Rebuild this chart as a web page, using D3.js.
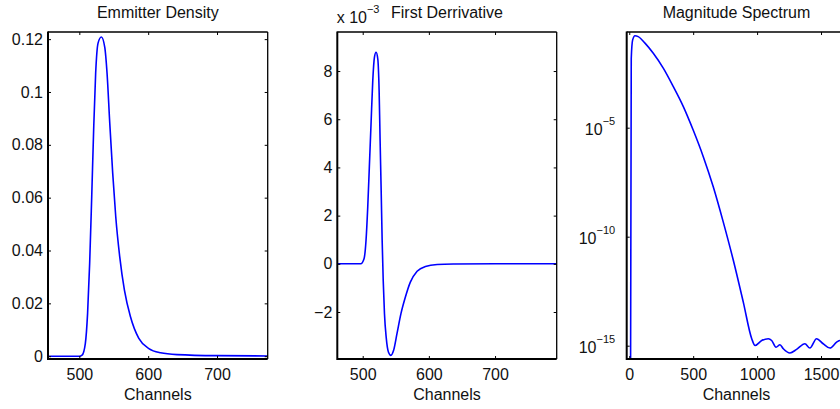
<!DOCTYPE html>
<html>
<head>
  <meta charset="utf-8">
  <script src="https://cdn.jsdelivr.net/npm/d3@7"></script>
  <style>
    body { margin: 0; background: #fff; }
    svg { display: block; }
    text { font-family: "Liberation Sans", Arial, Helvetica, sans-serif; fill: #111; }
  </style>
</head>
<body>
  <svg width="840" height="409"></svg>
  <script>
    // ---- data ----
    // emitter density
    var densChannels = [455, 500, 504, 508.7, 512, 515, 518, 520.8, 523.7, 527.2, 532, 536.9, 540.3, 544.2,
      548.5, 552.9, 558.7, 565.5, 574.3, 586.4, 601, 618, 642, 700, 774];
    var densValues = [0, 0, 0.0004, 0.0048, 0.0162, 0.0351, 0.0604, 0.0856, 0.107, 0.1185, 0.1208, 0.117,
      0.107, 0.0882, 0.0692, 0.0528, 0.0376, 0.025, 0.0149, 0.0067, 0.0029, 0.0013, 0.0006, 0.0002, 0.0001];
    var densTicksX = [500, 600, 700];
    var densTicksY = [0, 0.02, 0.04, 0.06, 0.08, 0.1, 0.12];

    // first derivative, in units of 10^-3
    var derivChannels = [462, 497, 502, 505, 507.6, 510, 512.6, 515.2, 517.7, 520.2, 522.8, 524.8, 526.3,
      527.9, 529.4, 531, 532.9, 535.5, 539, 542.6, 546.6, 551.8, 557.8, 564.4, 572, 582.2, 594.8, 612.6,
      637, 700, 793];
    var derivValues = [0, 0, 0.21, 0.97, 2.35, 4.0, 5.81, 7.6, 8.57, 8.78, 8.5, 7.19, 5.12, 3.04, 0.97,
      -0.69, -2.07, -3.05, -3.67, -3.8, -3.6, -2.9, -2.07, -1.39, -0.76, -0.31, -0.11, -0.03, -0.01, 0, 0];
    var derivTicksX = [500, 600, 700];
    var derivTicksY = [-2, 0, 2, 4, 6, 8];

    // magnitude spectrum
    var specChannels = [10, 15.6, 26.6, 44.6, 70, 123, 188, 266, 344, 423, 500, 579, 657, 735, 814, 892,
      958, 984, 1036, 1088, 1114, 1148, 1179, 1205, 1257, 1309, 1374, 1413, 1465, 1517, 1570, 1622, 1648, 1690];
    var specValues = [1e-17, 1.5e-2, 1.07e-1, 1.66e-1, 1.51e-1, 7.6e-2, 2.6e-2, 5.4e-3, 7.8e-4, 9.3e-5,
      7.8e-6, 4.7e-7, 1.95e-8, 4.8e-10, 8.3e-12, 1.0e-13, 2.1e-15, 1.02e-15, 1.74e-15, 2.1e-15, 1.74e-15,
      8.5e-16, 1.1e-15, 7.2e-16, 4.6e-16, 6.8e-16, 1.23e-15, 7.8e-16, 2.1e-15, 1.23e-15, 7.8e-16,
      1.45e-15, 1.74e-15, 1.6e-15];
    var specTicksX = [0, 500, 1000, 1500];
    var specTicksY = [1e-15, 1e-10, 1e-5];

    var svg = d3.select("svg");
    var plotTop = 32, plotBottom = 359;

    var panels = [
      { left: 48, right: 267.7, title: "Emmitter Density",
        x: d3.scaleLinear().domain([454.5, 773.6]), y: d3.scaleLinear().domain([-0.00106, 0.1227]),
        xs: densChannels, ys: densValues, tx: densTicksX, ty: densTicksY, fmt: function(d) { return d === 0 ? "0" : String(d); } },
      { left: 337.3, right: 556.7, title: "First Derrivative",
        x: d3.scaleLinear().domain([461.6, 793.2]), y: d3.scaleLinear().domain([-3.95, 9.62]),
        xs: derivChannels, ys: derivValues, tx: derivTicksX, ty: derivTicksY, fmt: function(d) { return String(d).replace("-", "\u2212"); } },
      { left: 626.7, right: 846.2, title: "Magnitude Spectrum", log: true,
        x: d3.scaleLinear().domain([-20, 1697]), y: d3.scaleLog().domain([Math.pow(10, -15.61), Math.pow(10, -0.61)]),
        xs: specChannels, ys: specValues, tx: specTicksX, ty: specTicksY }
    ];

    panels.forEach(function(p, i) {
      p.x.range([p.left, p.right]);
      p.y.range([plotBottom, plotTop]);
      var g = svg.append("g");

      g.append("clipPath").attr("id", "clip" + i)
        .append("rect").attr("x", p.left).attr("y", plotTop)
        .attr("width", p.right - p.left).attr("height", plotBottom - plotTop);

      var line = d3.line()
        .x(function(d) { return p.x(d[0]); })
        .y(function(d) { return p.y(d[1]); })
        .curve(d3.curveMonotoneX);

      g.append("path")
        .datum(d3.zip(p.xs, p.ys))
        .attr("clip-path", "url(#clip" + i + ")")
        .attr("d", line)
        .attr("fill", "none")
        .attr("stroke", "#0000ff")
        .attr("stroke-width", 1.6);

      // ticks on all four sides, pointing inward
      g.append("g").attr("transform", "translate(0," + plotBottom + ")")
        .call(d3.axisBottom(p.x).tickValues(p.tx).tickSizeInner(-3).tickSizeOuter(0).tickPadding(10)
          .tickFormat(d3.format("d")))
        .call(styleAxis);
      g.append("g").attr("transform", "translate(0," + plotTop + ")")
        .call(d3.axisTop(p.x).tickValues(p.tx).tickSizeInner(-3).tickSizeOuter(0).tickFormat(""))
        .call(styleAxis);
      var ya = d3.axisLeft(p.y).tickValues(p.ty).tickSizeInner(-3).tickSizeOuter(0).tickPadding(5);
      ya.tickFormat(p.log ? "" : p.fmt);
      g.append("g").attr("transform", "translate(" + p.left + ",0)").call(ya).call(styleAxis);
      g.append("g").attr("transform", "translate(" + p.right + ",0)")
        .call(d3.axisRight(p.y).tickValues(p.ty).tickSizeInner(-3).tickSizeOuter(0).tickFormat(""))
        .call(styleAxis);

      if (p.log) {
        p.ty.forEach(function(v) {
          var t = g.append("text")
            .attr("x", p.left - 11.5)
            .attr("y", p.y(v) + 7.3)
            .attr("text-anchor", "end")
            .attr("font-size", 16);
          t.append("tspan").text("10");
          t.append("tspan").attr("dy", -10.5).attr("font-size", 11)
            .text("\u2212" + Math.round(-Math.log10(v)));
        });
      }

      // frame
      g.append("line").attr("x1", p.left).attr("x2", p.right).attr("y1", plotTop).attr("y2", plotTop)
        .attr("stroke", "#000").attr("stroke-width", 1.3);
      g.append("line").attr("x1", p.right).attr("x2", p.right).attr("y1", plotTop).attr("y2", plotBottom)
        .attr("stroke", "#000").attr("stroke-width", 1.3);
      g.append("line").attr("x1", p.left).attr("x2", p.right).attr("y1", plotBottom).attr("y2", plotBottom)
        .attr("stroke", "#000").attr("stroke-width", 2);
      g.append("line").attr("x1", p.left).attr("x2", p.left).attr("y1", plotTop - 0.6).attr("y2", plotBottom + 1)
        .attr("stroke", "#000").attr("stroke-width", 2);

      g.append("text")
        .attr("x", (p.left + p.right) / 2)
        .attr("y", 18)
        .attr("text-anchor", "middle")
        .attr("font-size", 16)
        .text(p.title);

      g.append("text")
        .attr("x", (p.left + p.right) / 2)
        .attr("y", 400)
        .attr("text-anchor", "middle")
        .attr("font-size", 16)
        .text("Channels");
    });

    // exponent note above the derivative panel
    var note = svg.append("text")
      .attr("x", panels[1].left - 0.6)
      .attr("y", 22.7)
      .attr("font-size", 16);
    note.append("tspan").text("x 10");
    note.append("tspan").attr("dy", -10).attr("font-size", 11).text("\u22123");

    function styleAxis(sel) {
      sel.select(".domain").remove();
      sel.selectAll(".tick line").attr("stroke", "#000").attr("stroke-width", 1);
      sel.selectAll(".tick text")
        .attr("font-size", 16)
        .attr("font-family", "Liberation Sans, Arial, sans-serif")
        .attr("fill", "#111");
    }
  </script>
</body>
</html>
